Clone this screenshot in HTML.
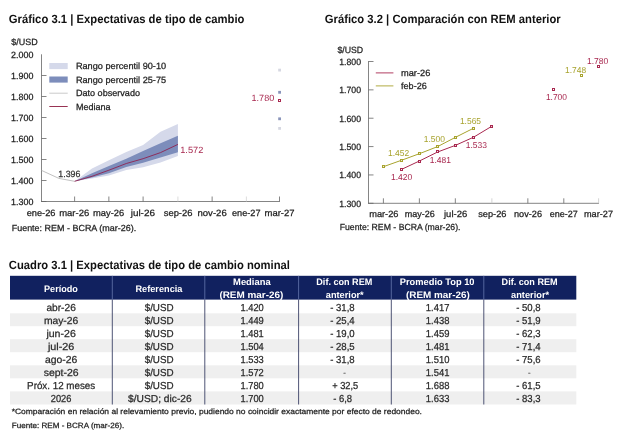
<!DOCTYPE html>
<html><head><meta charset="utf-8"><title>REM</title>
<style>html,body{margin:0;padding:0;background:#fff;}body{width:632px;height:438px;overflow:hidden;font-family:"Liberation Sans",sans-serif;}svg{display:block}</style>
</head><body>
<svg width="632" height="438" viewBox="0 0 632 438" font-family="'Liberation Sans', sans-serif" text-rendering="geometricPrecision" style="will-change:transform">
<text x="8.8" y="23.1" font-size="12" font-weight="bold" fill="#111" textLength="235.7" lengthAdjust="spacingAndGlyphs">Gráfico 3.1 | Expectativas de tipo de cambio</text>
<text x="324.8" y="23.1" font-size="12" font-weight="bold" fill="#111" textLength="235.9" lengthAdjust="spacingAndGlyphs">Gráfico 3.2 | Comparación con REM anterior</text>
<text x="8.8" y="268.9" font-size="12" font-weight="bold" fill="#111" textLength="281.2" lengthAdjust="spacingAndGlyphs">Cuadro 3.1 | Expectativas de tipo de cambio nominal</text>
<text x="11.3" y="45.2" font-size="9.0" fill="#1e1e1e" stroke="#1e1e1e" stroke-width="0.25" textLength="26.4" lengthAdjust="spacingAndGlyphs">$/USD</text>
<line x1="41.5" y1="201.5" x2="46.5" y2="201.5" stroke="#666" stroke-width="0.8"/>
<text x="11.1" y="204.8" font-size="9.0" fill="#1e1e1e" stroke="#1e1e1e" stroke-width="0.25" textLength="22.3" lengthAdjust="spacingAndGlyphs">1.300</text>
<line x1="41.5" y1="180.5" x2="46.5" y2="180.5" stroke="#666" stroke-width="0.8"/>
<text x="11.1" y="183.8" font-size="9.0" fill="#1e1e1e" stroke="#1e1e1e" stroke-width="0.25" textLength="22.3" lengthAdjust="spacingAndGlyphs">1.400</text>
<line x1="41.5" y1="159.5" x2="46.5" y2="159.5" stroke="#666" stroke-width="0.8"/>
<text x="11.1" y="162.8" font-size="9.0" fill="#1e1e1e" stroke="#1e1e1e" stroke-width="0.25" textLength="22.3" lengthAdjust="spacingAndGlyphs">1.500</text>
<line x1="41.5" y1="138.5" x2="46.5" y2="138.5" stroke="#666" stroke-width="0.8"/>
<text x="11.1" y="141.8" font-size="9.0" fill="#1e1e1e" stroke="#1e1e1e" stroke-width="0.25" textLength="22.3" lengthAdjust="spacingAndGlyphs">1.600</text>
<line x1="41.5" y1="117.5" x2="46.5" y2="117.5" stroke="#666" stroke-width="0.8"/>
<text x="11.1" y="120.8" font-size="9.0" fill="#1e1e1e" stroke="#1e1e1e" stroke-width="0.25" textLength="22.3" lengthAdjust="spacingAndGlyphs">1.700</text>
<line x1="41.5" y1="96.5" x2="46.5" y2="96.5" stroke="#666" stroke-width="0.8"/>
<text x="11.1" y="99.8" font-size="9.0" fill="#1e1e1e" stroke="#1e1e1e" stroke-width="0.25" textLength="22.3" lengthAdjust="spacingAndGlyphs">1.800</text>
<line x1="41.5" y1="75.5" x2="46.5" y2="75.5" stroke="#666" stroke-width="0.8"/>
<text x="11.1" y="78.8" font-size="9.0" fill="#1e1e1e" stroke="#1e1e1e" stroke-width="0.25" textLength="22.3" lengthAdjust="spacingAndGlyphs">1.900</text>
<text x="11.1" y="57.8" font-size="9.0" fill="#1e1e1e" stroke="#1e1e1e" stroke-width="0.25" textLength="22.3" lengthAdjust="spacingAndGlyphs">2.000</text>
<line x1="41.5" y1="54.3" x2="41.5" y2="201.9" stroke="#666" stroke-width="0.8"/>
<line x1="41.1" y1="201.5" x2="279.9" y2="201.5" stroke="#666" stroke-width="0.8"/>
<text x="26.7" y="216.0" font-size="9.0" fill="#1e1e1e" stroke="#1e1e1e" stroke-width="0.25" textLength="28.8" lengthAdjust="spacingAndGlyphs">ene-26</text>
<line x1="74.62" y1="196.5" x2="74.62" y2="201.5" stroke="#666" stroke-width="0.8"/>
<text x="59.2" y="216.0" font-size="9.0" fill="#1e1e1e" stroke="#1e1e1e" stroke-width="0.25" textLength="30.0" lengthAdjust="spacingAndGlyphs">mar-26</text>
<line x1="108.86" y1="196.5" x2="108.86" y2="201.5" stroke="#666" stroke-width="0.8"/>
<text x="93" y="216.0" font-size="9.0" fill="#1e1e1e" stroke="#1e1e1e" stroke-width="0.25" textLength="31.2" lengthAdjust="spacingAndGlyphs">may-26</text>
<line x1="143.1" y1="196.5" x2="143.1" y2="201.5" stroke="#666" stroke-width="0.8"/>
<text x="130.7" y="216.0" font-size="9.0" fill="#1e1e1e" stroke="#1e1e1e" stroke-width="0.25" textLength="24.3" lengthAdjust="spacingAndGlyphs">jul-26</text>
<line x1="177.9" y1="196.5" x2="177.9" y2="201.5" stroke="#d4d4d4" stroke-width="0.8"/>
<text x="163.7" y="216.0" font-size="9.0" fill="#1e1e1e" stroke="#1e1e1e" stroke-width="0.25" textLength="28.8" lengthAdjust="spacingAndGlyphs">sep-26</text>
<line x1="212.14" y1="196.5" x2="212.14" y2="201.5" stroke="#666" stroke-width="0.8"/>
<text x="197.5" y="216.0" font-size="9.0" fill="#1e1e1e" stroke="#1e1e1e" stroke-width="0.25" textLength="29.2" lengthAdjust="spacingAndGlyphs">nov-26</text>
<line x1="246.38" y1="196.5" x2="246.38" y2="201.5" stroke="#d4d4d4" stroke-width="0.8"/>
<text x="232" y="216.0" font-size="9.0" fill="#1e1e1e" stroke="#1e1e1e" stroke-width="0.25" textLength="28.5" lengthAdjust="spacingAndGlyphs">ene-27</text>
<line x1="279.5" y1="196.5" x2="279.5" y2="201.5" stroke="#666" stroke-width="0.8"/>
<text x="264.5" y="216.0" font-size="9.0" fill="#1e1e1e" stroke="#1e1e1e" stroke-width="0.25" textLength="30.0" lengthAdjust="spacingAndGlyphs">mar-27</text>
<rect x="49.3" y="63" width="18.4" height="6.1" fill="#d5d9ea"/>
<rect x="49.3" y="76.5" width="18.4" height="6.1" fill="#7d8dbb"/>
<line x1="49.3" y1="93.2" x2="67.7" y2="93.2" stroke="#c4c4c4" stroke-width="0.9"/>
<line x1="49.3" y1="106.5" x2="67.7" y2="106.5" stroke="#8c1c40" stroke-width="0.9"/>
<text x="75.9" y="69.3" font-size="9.0" fill="#1e1e1e" stroke="#1e1e1e" stroke-width="0.25" textLength="90.2" lengthAdjust="spacingAndGlyphs">Rango percentil 90-10</text>
<text x="75.9" y="82.7" font-size="9.0" fill="#1e1e1e" stroke="#1e1e1e" stroke-width="0.25" textLength="90.2" lengthAdjust="spacingAndGlyphs">Rango percentil 25-75</text>
<text x="75.9" y="96.1" font-size="9.0" fill="#1e1e1e" stroke="#1e1e1e" stroke-width="0.25" textLength="64.1" lengthAdjust="spacingAndGlyphs">Dato observado</text>
<text x="75.9" y="109.5" font-size="9.0" fill="#1e1e1e" stroke="#1e1e1e" stroke-width="0.25" textLength="34.5" lengthAdjust="spacingAndGlyphs">Mediana</text>
<polygon points="74.6,181.3 92.0,168.5 108.9,160.3 126.3,152.0 143.1,145.0 160.5,131.7 177.9,124.0 177.9,156.0 160.5,162.5 143.1,167.2 126.3,170.0 108.9,175.4 92.0,178.4 74.6,181.3" fill="#d5d9ea"/>
<polygon points="74.6,181.3 92.0,173.2 108.9,166.0 126.3,158.7 143.1,151.1 160.5,143.2 177.9,135.7 177.9,152.3 160.5,157.6 143.1,162.8 126.3,167.0 108.9,173.2 92.0,177.6 74.6,181.3" fill="#7d8dbb"/>
<polyline points="41.5,170.4 58.9,178.4 74.62,181.3" fill="none" stroke="#b0b0b0" stroke-width="0.8"/>
<polyline points="74.6,181.3 92.0,176.3 108.9,170.2 126.3,163.5 143.1,158.7 160.5,152.6 177.9,144.4" fill="none" stroke="#8e2350" stroke-width="0.9"/>
<text x="58.3" y="176.6" font-size="9.0" fill="#333" stroke="#333" stroke-width="0.25" textLength="22.1" lengthAdjust="spacingAndGlyphs">1.396</text>
<text x="180.2" y="152.8" font-size="9.0" fill="#a8284f" textLength="23.1" lengthAdjust="spacingAndGlyphs">1.572</text>
<text x="251.6" y="100.6" font-size="9.0" fill="#a8284f" textLength="22.6" lengthAdjust="spacingAndGlyphs">1.780</text>
<rect x="278.2" y="68.7" width="2.8" height="2.8" fill="#d6d8e2"/>
<rect x="278.2" y="90.9" width="2.8" height="2.8" fill="#8a95bb"/>
<rect x="278.2" y="117.4" width="2.8" height="2.8" fill="#8a95bb"/>
<rect x="278.2" y="127.0" width="2.8" height="2.8" fill="#d6d8e2"/>
<rect x="278.5" y="99.5" width="2" height="2" fill="#fff" fill-opacity="0.7" stroke="#a8284f" stroke-width="1"/>
<text x="11.7" y="230.6" font-size="8.8" fill="#1e1e1e" stroke="#1e1e1e" stroke-width="0.25" textLength="124.5" lengthAdjust="spacingAndGlyphs">Fuente: REM - BCRA (mar-26).</text>
<text x="337.4" y="52.7" font-size="9.0" fill="#1e1e1e" stroke="#1e1e1e" stroke-width="0.25" textLength="25.8" lengthAdjust="spacingAndGlyphs">$/USD</text>
<line x1="368.5" y1="203.3" x2="373.5" y2="203.3" stroke="#666" stroke-width="0.8"/>
<text x="339.2" y="206.6" font-size="9.0" fill="#1e1e1e" stroke="#1e1e1e" stroke-width="0.25" textLength="21.8" lengthAdjust="spacingAndGlyphs">1.300</text>
<line x1="368.5" y1="174.94" x2="373.5" y2="174.94" stroke="#666" stroke-width="0.8"/>
<text x="339.2" y="178.2" font-size="9.0" fill="#1e1e1e" stroke="#1e1e1e" stroke-width="0.25" textLength="21.8" lengthAdjust="spacingAndGlyphs">1.400</text>
<line x1="368.5" y1="146.58" x2="373.5" y2="146.58" stroke="#666" stroke-width="0.8"/>
<text x="339.2" y="149.9" font-size="9.0" fill="#1e1e1e" stroke="#1e1e1e" stroke-width="0.25" textLength="21.8" lengthAdjust="spacingAndGlyphs">1.500</text>
<line x1="368.5" y1="118.22" x2="373.5" y2="118.22" stroke="#666" stroke-width="0.8"/>
<text x="339.2" y="121.5" font-size="9.0" fill="#1e1e1e" stroke="#1e1e1e" stroke-width="0.25" textLength="21.8" lengthAdjust="spacingAndGlyphs">1.600</text>
<line x1="368.5" y1="89.86" x2="373.5" y2="89.86" stroke="#666" stroke-width="0.8"/>
<text x="339.2" y="93.2" font-size="9.0" fill="#1e1e1e" stroke="#1e1e1e" stroke-width="0.25" textLength="21.8" lengthAdjust="spacingAndGlyphs">1.700</text>
<line x1="368.5" y1="61.5" x2="373.5" y2="61.5" stroke="#666" stroke-width="0.8"/>
<text x="339.2" y="64.8" font-size="9.0" fill="#1e1e1e" stroke="#1e1e1e" stroke-width="0.25" textLength="21.8" lengthAdjust="spacingAndGlyphs">1.800</text>
<line x1="368.5" y1="61.1" x2="368.5" y2="203.7" stroke="#666" stroke-width="0.8"/>
<line x1="368.1" y1="203.3" x2="599.0" y2="203.3" stroke="#666" stroke-width="0.8"/>
<line x1="383.4" y1="198.3" x2="383.4" y2="203.3" stroke="#666" stroke-width="0.8"/>
<text x="369.2" y="217" font-size="9.0" fill="#1e1e1e" stroke="#1e1e1e" stroke-width="0.25" textLength="29.3" lengthAdjust="spacingAndGlyphs">mar-26</text>
<line x1="419.36" y1="198.3" x2="419.36" y2="203.3" stroke="#666" stroke-width="0.8"/>
<text x="404.7" y="217" font-size="9.0" fill="#1e1e1e" stroke="#1e1e1e" stroke-width="0.25" textLength="30.0" lengthAdjust="spacingAndGlyphs">may-26</text>
<line x1="455.33" y1="198.3" x2="455.33" y2="203.3" stroke="#666" stroke-width="0.8"/>
<text x="444" y="217" font-size="9.0" fill="#1e1e1e" stroke="#1e1e1e" stroke-width="0.25" textLength="23.2" lengthAdjust="spacingAndGlyphs">jul-26</text>
<line x1="491.88" y1="198.3" x2="491.88" y2="203.3" stroke="#c8c8c8" stroke-width="0.8"/>
<text x="478.2" y="217" font-size="9.0" fill="#1e1e1e" stroke="#1e1e1e" stroke-width="0.25" textLength="28.3" lengthAdjust="spacingAndGlyphs">sep-26</text>
<line x1="527.85" y1="198.3" x2="527.85" y2="203.3" stroke="#666" stroke-width="0.8"/>
<text x="514" y="217" font-size="9.0" fill="#1e1e1e" stroke="#1e1e1e" stroke-width="0.25" textLength="28" lengthAdjust="spacingAndGlyphs">nov-26</text>
<line x1="563.81" y1="198.3" x2="563.81" y2="203.3" stroke="#666" stroke-width="0.8"/>
<text x="549.7" y="217" font-size="9.0" fill="#1e1e1e" stroke="#1e1e1e" stroke-width="0.25" textLength="28.0" lengthAdjust="spacingAndGlyphs">ene-27</text>
<line x1="598.6" y1="198.3" x2="598.6" y2="203.3" stroke="#c8c8c8" stroke-width="0.8"/>
<text x="584" y="217" font-size="9.0" fill="#1e1e1e" stroke="#1e1e1e" stroke-width="0.25" textLength="29" lengthAdjust="spacingAndGlyphs">mar-27</text>
<line x1="375.8" y1="72.9" x2="393.4" y2="72.9" stroke="#a8284f" stroke-width="0.9"/>
<line x1="375.8" y1="85.9" x2="393.4" y2="85.9" stroke="#a8a32e" stroke-width="0.9"/>
<text x="401" y="76.1" font-size="9.0" fill="#1e1e1e" stroke="#1e1e1e" stroke-width="0.25" textLength="29.3" lengthAdjust="spacingAndGlyphs">mar-26</text>
<text x="401" y="89.1" font-size="9.0" fill="#1e1e1e" stroke="#1e1e1e" stroke-width="0.25" textLength="25.8" lengthAdjust="spacingAndGlyphs">feb-26</text>
<polyline points="383.4,166.7 401.7,160.2 419.4,153.7 437.6,146.6 455.3,137.4 473.6,128.2" fill="none" stroke="#a8a32e" stroke-width="1"/>
<rect x="382.5" y="165.5" width="2" height="2" fill="#fff" fill-opacity="0.7" stroke="#a8a32e" stroke-width="1"/>
<rect x="400.5" y="159.5" width="2" height="2" fill="#fff" fill-opacity="0.7" stroke="#a8a32e" stroke-width="1"/>
<rect x="418.5" y="152.5" width="2" height="2" fill="#fff" fill-opacity="0.7" stroke="#a8a32e" stroke-width="1"/>
<rect x="436.5" y="145.5" width="2" height="2" fill="#fff" fill-opacity="0.7" stroke="#a8a32e" stroke-width="1"/>
<rect x="454.5" y="136.5" width="2" height="2" fill="#fff" fill-opacity="0.7" stroke="#a8a32e" stroke-width="1"/>
<rect x="472.5" y="127.5" width="2" height="2" fill="#fff" fill-opacity="0.7" stroke="#a8a32e" stroke-width="1"/>
<polyline points="401.7,169.3 419.4,161.0 437.6,152.0 455.3,145.4 473.6,137.2 491.9,126.2" fill="none" stroke="#a8284f" stroke-width="1"/>
<rect x="400.5" y="168.5" width="2" height="2" fill="#fff" fill-opacity="0.7" stroke="#a8284f" stroke-width="1"/>
<rect x="418.5" y="160.5" width="2" height="2" fill="#fff" fill-opacity="0.7" stroke="#a8284f" stroke-width="1"/>
<rect x="436.5" y="150.5" width="2" height="2" fill="#fff" fill-opacity="0.7" stroke="#a8284f" stroke-width="1"/>
<rect x="454.5" y="144.5" width="2" height="2" fill="#fff" fill-opacity="0.7" stroke="#a8284f" stroke-width="1"/>
<rect x="472.5" y="136.5" width="2" height="2" fill="#fff" fill-opacity="0.7" stroke="#a8284f" stroke-width="1"/>
<rect x="490.5" y="125.5" width="2" height="2" fill="#fff" fill-opacity="0.7" stroke="#a8284f" stroke-width="1"/>
<rect x="552.5" y="88.5" width="2" height="2" fill="#fff" fill-opacity="0.7" stroke="#a8284f" stroke-width="1"/>
<rect x="580.5" y="74.5" width="2" height="2" fill="#fff" fill-opacity="0.7" stroke="#a8a32e" stroke-width="1"/>
<rect x="597.5" y="65.5" width="2" height="2" fill="#fff" fill-opacity="0.7" stroke="#a8284f" stroke-width="1"/>
<text x="388" y="156" font-size="8.6" fill="#a8a32e" textLength="21.2" lengthAdjust="spacingAndGlyphs">1.452</text>
<text x="423.7" y="142.2" font-size="8.6" fill="#a8a32e" textLength="21.2" lengthAdjust="spacingAndGlyphs">1.500</text>
<text x="459.9" y="123.7" font-size="8.6" fill="#a8a32e" textLength="21.2" lengthAdjust="spacingAndGlyphs">1.565</text>
<text x="391" y="179.5" font-size="8.6" fill="#a8284f" textLength="21.2" lengthAdjust="spacingAndGlyphs">1.420</text>
<text x="429.8" y="163.3" font-size="8.6" fill="#a8284f" textLength="21.2" lengthAdjust="spacingAndGlyphs">1.481</text>
<text x="465.8" y="148.4" font-size="8.6" fill="#a8284f" textLength="21.2" lengthAdjust="spacingAndGlyphs">1.533</text>
<text x="545.9" y="99.5" font-size="8.6" fill="#a8284f" textLength="21.1" lengthAdjust="spacingAndGlyphs">1.700</text>
<text x="565" y="73.2" font-size="8.6" fill="#a8a32e" textLength="21.1" lengthAdjust="spacingAndGlyphs">1.748</text>
<text x="587" y="63.8" font-size="8.6" fill="#a8284f" textLength="21.2" lengthAdjust="spacingAndGlyphs">1.780</text>
<text x="339.7" y="230.2" font-size="8.8" fill="#1e1e1e" stroke="#1e1e1e" stroke-width="0.25" textLength="120.8" lengthAdjust="spacingAndGlyphs">Fuente: REM - BCRA (mar-26).</text>
<rect x="10" y="275.8" width="566.3" height="23.8" fill="#11215f"/>
<rect x="10" y="313.3" width="566.3" height="12.899999999999977" fill="#efefef"/>
<rect x="10" y="339.2" width="566.3" height="13.0" fill="#efefef"/>
<rect x="10" y="365.3" width="566.3" height="13.0" fill="#efefef"/>
<rect x="10" y="391.4" width="566.3" height="13.100000000000023" fill="#efefef"/>
<line x1="112.3" y1="275.8" x2="112.3" y2="299.6" stroke="#6676ad" stroke-width="0.8"/>
<line x1="112.3" y1="299.6" x2="112.3" y2="404.5" stroke="#3b4266" stroke-width="0.9"/>
<line x1="204.8" y1="275.8" x2="204.8" y2="299.6" stroke="#6676ad" stroke-width="0.8"/>
<line x1="204.8" y1="299.6" x2="204.8" y2="404.5" stroke="#3b4266" stroke-width="0.9"/>
<line x1="298.6" y1="275.8" x2="298.6" y2="299.6" stroke="#6676ad" stroke-width="0.8"/>
<line x1="298.6" y1="299.6" x2="298.6" y2="404.5" stroke="#3b4266" stroke-width="0.9"/>
<line x1="391.3" y1="275.8" x2="391.3" y2="299.6" stroke="#6676ad" stroke-width="0.8"/>
<line x1="391.3" y1="299.6" x2="391.3" y2="404.5" stroke="#3b4266" stroke-width="0.9"/>
<line x1="483.8" y1="275.8" x2="483.8" y2="299.6" stroke="#6676ad" stroke-width="0.8"/>
<line x1="483.8" y1="299.6" x2="483.8" y2="404.5" stroke="#3b4266" stroke-width="0.9"/>
<text x="44.0" y="291.5" font-size="9.4" font-weight="bold" fill="#fff" textLength="33.9" lengthAdjust="spacingAndGlyphs">Período</text>
<text x="135.5" y="291.5" font-size="9.4" font-weight="bold" fill="#fff" textLength="46.9" lengthAdjust="spacingAndGlyphs">Referencia</text>
<text x="233.1" y="285.3" font-size="9.4" font-weight="bold" fill="#fff" textLength="37.5" lengthAdjust="spacingAndGlyphs">Mediana</text>
<text x="219.4" y="298.2" font-size="9.4" font-weight="bold" fill="#fff" textLength="64.0" lengthAdjust="spacingAndGlyphs">(REM mar-26)</text>
<text x="316.3" y="285.3" font-size="9.4" font-weight="bold" fill="#fff" textLength="56" lengthAdjust="spacingAndGlyphs">Dif. con REM</text>
<text x="325.8" y="298.2" font-size="9.4" font-weight="bold" fill="#fff" textLength="37.9" lengthAdjust="spacingAndGlyphs">anterior*</text>
<text x="399.8" y="285.3" font-size="9.4" font-weight="bold" fill="#fff" textLength="74.7" lengthAdjust="spacingAndGlyphs">Promedio Top 10</text>
<text x="406.0" y="298.2" font-size="9.4" font-weight="bold" fill="#fff" textLength="63.8" lengthAdjust="spacingAndGlyphs">(REM mar-26)</text>
<text x="501.6" y="285.3" font-size="9.4" font-weight="bold" fill="#fff" textLength="56" lengthAdjust="spacingAndGlyphs">Dif. con REM</text>
<text x="511.1" y="298.2" font-size="9.4" font-weight="bold" fill="#fff" textLength="38" lengthAdjust="spacingAndGlyphs">anterior*</text>
<text x="46.4" y="310.6" font-size="10.1" fill="#2a2a2a" stroke="#2a2a2a" stroke-width="0.25" textLength="29.4" lengthAdjust="spacingAndGlyphs">abr-26</text>
<text x="144.7" y="310.6" font-size="10.1" fill="#2a2a2a" stroke="#2a2a2a" stroke-width="0.25" textLength="28.9" lengthAdjust="spacingAndGlyphs">$/USD</text>
<text x="240.5" y="310.6" font-size="10.1" fill="#2a2a2a" stroke="#2a2a2a" stroke-width="0.25" textLength="23.3" lengthAdjust="spacingAndGlyphs">1.420</text>
<text x="330.2" y="310.6" font-size="10.1" fill="#2a2a2a" stroke="#2a2a2a" stroke-width="0.25" textLength="24.5" lengthAdjust="spacingAndGlyphs">- 31,8</text>
<text x="425.8" y="310.6" font-size="10.1" fill="#2a2a2a" stroke="#2a2a2a" stroke-width="0.25" textLength="23.6" lengthAdjust="spacingAndGlyphs">1.417</text>
<text x="516.2" y="310.6" font-size="10.1" fill="#2a2a2a" stroke="#2a2a2a" stroke-width="0.25" textLength="24.4" lengthAdjust="spacingAndGlyphs">- 50,8</text>
<text x="43.9" y="323.7" font-size="10.1" fill="#2a2a2a" stroke="#2a2a2a" stroke-width="0.25" textLength="34.4" lengthAdjust="spacingAndGlyphs">may-26</text>
<text x="144.7" y="323.7" font-size="10.1" fill="#2a2a2a" stroke="#2a2a2a" stroke-width="0.25" textLength="28.9" lengthAdjust="spacingAndGlyphs">$/USD</text>
<text x="240.5" y="323.7" font-size="10.1" fill="#2a2a2a" stroke="#2a2a2a" stroke-width="0.25" textLength="23.3" lengthAdjust="spacingAndGlyphs">1.449</text>
<text x="330.2" y="323.7" font-size="10.1" fill="#2a2a2a" stroke="#2a2a2a" stroke-width="0.25" textLength="24.5" lengthAdjust="spacingAndGlyphs">- 25,4</text>
<text x="425.8" y="323.7" font-size="10.1" fill="#2a2a2a" stroke="#2a2a2a" stroke-width="0.25" textLength="23.6" lengthAdjust="spacingAndGlyphs">1.438</text>
<text x="516.2" y="323.7" font-size="10.1" fill="#2a2a2a" stroke="#2a2a2a" stroke-width="0.25" textLength="24.4" lengthAdjust="spacingAndGlyphs">- 51,9</text>
<text x="46.4" y="336.7" font-size="10.1" fill="#2a2a2a" stroke="#2a2a2a" stroke-width="0.25" textLength="29.4" lengthAdjust="spacingAndGlyphs">jun-26</text>
<text x="144.7" y="336.7" font-size="10.1" fill="#2a2a2a" stroke="#2a2a2a" stroke-width="0.25" textLength="28.9" lengthAdjust="spacingAndGlyphs">$/USD</text>
<text x="240.5" y="336.7" font-size="10.1" fill="#2a2a2a" stroke="#2a2a2a" stroke-width="0.25" textLength="23.3" lengthAdjust="spacingAndGlyphs">1.481</text>
<text x="330.2" y="336.7" font-size="10.1" fill="#2a2a2a" stroke="#2a2a2a" stroke-width="0.25" textLength="24.5" lengthAdjust="spacingAndGlyphs">- 19,0</text>
<text x="425.8" y="336.7" font-size="10.1" fill="#2a2a2a" stroke="#2a2a2a" stroke-width="0.25" textLength="23.6" lengthAdjust="spacingAndGlyphs">1.459</text>
<text x="516.2" y="336.7" font-size="10.1" fill="#2a2a2a" stroke="#2a2a2a" stroke-width="0.25" textLength="24.4" lengthAdjust="spacingAndGlyphs">- 62,3</text>
<text x="47.9" y="349.8" font-size="10.1" fill="#2a2a2a" stroke="#2a2a2a" stroke-width="0.25" textLength="26.4" lengthAdjust="spacingAndGlyphs">jul-26</text>
<text x="144.7" y="349.8" font-size="10.1" fill="#2a2a2a" stroke="#2a2a2a" stroke-width="0.25" textLength="28.9" lengthAdjust="spacingAndGlyphs">$/USD</text>
<text x="240.5" y="349.8" font-size="10.1" fill="#2a2a2a" stroke="#2a2a2a" stroke-width="0.25" textLength="23.3" lengthAdjust="spacingAndGlyphs">1.504</text>
<text x="330.2" y="349.8" font-size="10.1" fill="#2a2a2a" stroke="#2a2a2a" stroke-width="0.25" textLength="24.5" lengthAdjust="spacingAndGlyphs">- 28,5</text>
<text x="425.8" y="349.8" font-size="10.1" fill="#2a2a2a" stroke="#2a2a2a" stroke-width="0.25" textLength="23.6" lengthAdjust="spacingAndGlyphs">1.481</text>
<text x="516.2" y="349.8" font-size="10.1" fill="#2a2a2a" stroke="#2a2a2a" stroke-width="0.25" textLength="24.4" lengthAdjust="spacingAndGlyphs">- 71,4</text>
<text x="44.9" y="362.9" font-size="10.1" fill="#2a2a2a" stroke="#2a2a2a" stroke-width="0.25" textLength="32.4" lengthAdjust="spacingAndGlyphs">ago-26</text>
<text x="144.7" y="362.9" font-size="10.1" fill="#2a2a2a" stroke="#2a2a2a" stroke-width="0.25" textLength="28.9" lengthAdjust="spacingAndGlyphs">$/USD</text>
<text x="240.5" y="362.9" font-size="10.1" fill="#2a2a2a" stroke="#2a2a2a" stroke-width="0.25" textLength="23.3" lengthAdjust="spacingAndGlyphs">1.533</text>
<text x="330.2" y="362.9" font-size="10.1" fill="#2a2a2a" stroke="#2a2a2a" stroke-width="0.25" textLength="24.5" lengthAdjust="spacingAndGlyphs">- 31,8</text>
<text x="425.8" y="362.9" font-size="10.1" fill="#2a2a2a" stroke="#2a2a2a" stroke-width="0.25" textLength="23.6" lengthAdjust="spacingAndGlyphs">1.510</text>
<text x="516.2" y="362.9" font-size="10.1" fill="#2a2a2a" stroke="#2a2a2a" stroke-width="0.25" textLength="24.4" lengthAdjust="spacingAndGlyphs">- 75,6</text>
<text x="43.7" y="376.0" font-size="10.1" fill="#2a2a2a" stroke="#2a2a2a" stroke-width="0.25" textLength="34.9" lengthAdjust="spacingAndGlyphs">sept-26</text>
<text x="144.7" y="376.0" font-size="10.1" fill="#2a2a2a" stroke="#2a2a2a" stroke-width="0.25" textLength="28.9" lengthAdjust="spacingAndGlyphs">$/USD</text>
<text x="240.5" y="376.0" font-size="10.1" fill="#2a2a2a" stroke="#2a2a2a" stroke-width="0.25" textLength="23.3" lengthAdjust="spacingAndGlyphs">1.572</text>
<text x="343.3" y="376.0" font-size="10.1" fill="#777" stroke="#777" stroke-width="0.25" textLength="2.6" lengthAdjust="spacingAndGlyphs">-</text>
<text x="425.8" y="376.0" font-size="10.1" fill="#2a2a2a" stroke="#2a2a2a" stroke-width="0.25" textLength="23.6" lengthAdjust="spacingAndGlyphs">1.541</text>
<text x="528.0" y="376.0" font-size="10.1" fill="#777" stroke="#777" stroke-width="0.25" textLength="2.6" lengthAdjust="spacingAndGlyphs">-</text>
<text x="27.1" y="389.0" font-size="10.1" fill="#2a2a2a" stroke="#2a2a2a" stroke-width="0.25" textLength="68.1" lengthAdjust="spacingAndGlyphs">Próx. 12 meses</text>
<text x="144.7" y="389.0" font-size="10.1" fill="#2a2a2a" stroke="#2a2a2a" stroke-width="0.25" textLength="28.9" lengthAdjust="spacingAndGlyphs">$/USD</text>
<text x="240.5" y="389.0" font-size="10.1" fill="#2a2a2a" stroke="#2a2a2a" stroke-width="0.25" textLength="23.3" lengthAdjust="spacingAndGlyphs">1.780</text>
<text x="332.2" y="389.0" font-size="10.1" fill="#2a2a2a" stroke="#2a2a2a" stroke-width="0.25" textLength="26.1" lengthAdjust="spacingAndGlyphs">+ 32,5</text>
<text x="425.8" y="389.0" font-size="10.1" fill="#2a2a2a" stroke="#2a2a2a" stroke-width="0.25" textLength="23.6" lengthAdjust="spacingAndGlyphs">1.688</text>
<text x="516.2" y="389.0" font-size="10.1" fill="#2a2a2a" stroke="#2a2a2a" stroke-width="0.25" textLength="24.4" lengthAdjust="spacingAndGlyphs">- 61,5</text>
<text x="50.8" y="402.1" font-size="10.1" fill="#2a2a2a" stroke="#2a2a2a" stroke-width="0.25" textLength="20.6" lengthAdjust="spacingAndGlyphs">2026</text>
<text x="128.1" y="402.1" font-size="10.1" fill="#2a2a2a" stroke="#2a2a2a" stroke-width="0.25" textLength="63.6" lengthAdjust="spacingAndGlyphs">$/USD; dic-26</text>
<text x="240.5" y="402.1" font-size="10.1" fill="#2a2a2a" stroke="#2a2a2a" stroke-width="0.25" textLength="23.3" lengthAdjust="spacingAndGlyphs">1.700</text>
<text x="333.2" y="402.1" font-size="10.1" fill="#2a2a2a" stroke="#2a2a2a" stroke-width="0.25" textLength="18.9" lengthAdjust="spacingAndGlyphs">- 6,8</text>
<text x="425.8" y="402.1" font-size="10.1" fill="#2a2a2a" stroke="#2a2a2a" stroke-width="0.25" textLength="23.6" lengthAdjust="spacingAndGlyphs">1.633</text>
<text x="516.2" y="402.1" font-size="10.1" fill="#2a2a2a" stroke="#2a2a2a" stroke-width="0.25" textLength="24.4" lengthAdjust="spacingAndGlyphs">- 83,3</text>
<text x="11.7" y="414.2" font-size="7.7" fill="#1e1e1e" stroke="#1e1e1e" stroke-width="0.25" textLength="410.3" lengthAdjust="spacingAndGlyphs">*Comparación en relación al relevamiento previo, pudiendo no coincidir exactamente por efecto de redondeo.</text>
<text x="11.7" y="428.3" font-size="7.6" fill="#1e1e1e" stroke="#1e1e1e" stroke-width="0.25" textLength="112.5" lengthAdjust="spacingAndGlyphs">Fuente: REM - BCRA (mar-26).</text>
</svg>
</body></html>
